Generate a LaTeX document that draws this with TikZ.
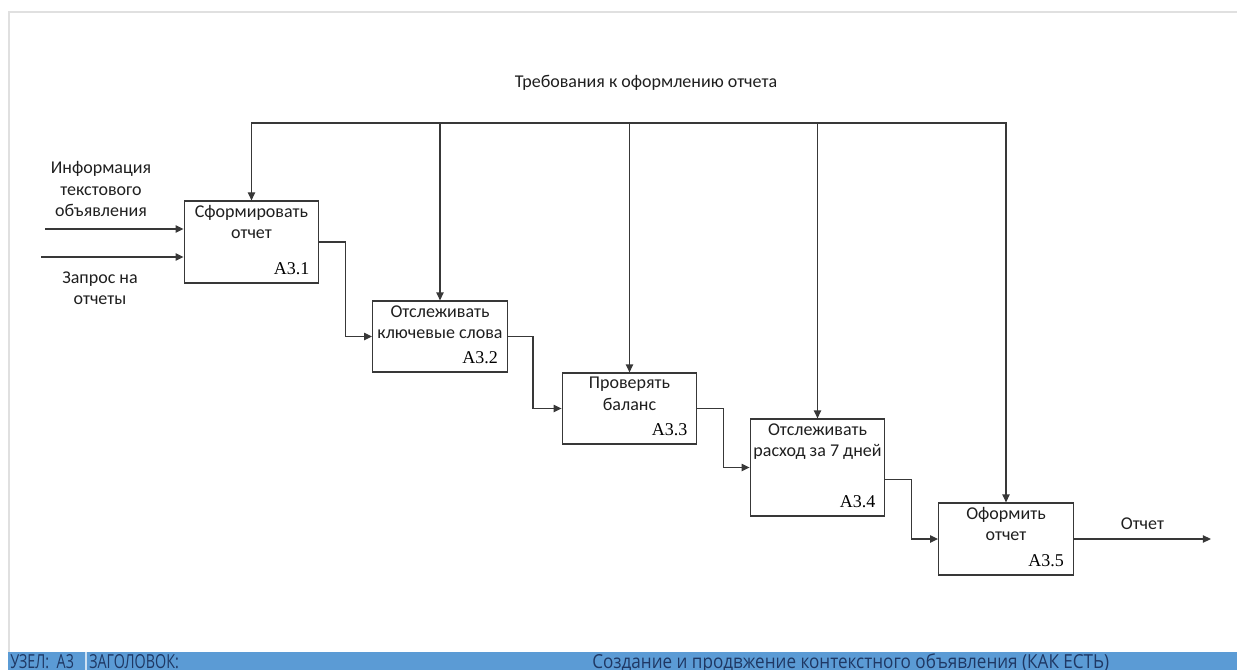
\documentclass[tikz,border=0pt]{standalone}
\usepackage{fontspec}
\setmainfont{Carlito}
\newfontfamily\numfont{Liberation Serif}
\newfontfamily\barfont[FakeStretch=0.885]{Open Sans}
\newfontfamily\barcaps[FakeStretch=0.74]{Open Sans}
\usetikzlibrary{arrows.meta,positioning,calc}
\definecolor{dkline}{gray}{0.22}
\definecolor{frame}{gray}{0.88}
\definecolor{bar}{HTML}{5B9BD5}
\definecolor{bartext}{HTML}{1F3864}

\begin{document}
\begin{tikzpicture}[
		x=0.75pt, y=-0.75pt,
		every node/.style={font=\fontsize{13.5}{16}\selectfont, text=black!88},
		func/.style={draw=dkline, line width=0.9pt, fill=white, minimum width=101pt, inner sep=0pt},
		ftext/.style={align=center, inner sep=2pt},
		fnum/.style={font=\numfont\fontsize{13.5}{15}\selectfont, text=black, anchor=base east, xshift=-4pt, yshift=6.5pt},
		note/.style={align=center, inner sep=1pt},
		farrow/.style={-{Triangle[length=6pt, width=5.5pt]}, draw=dkline, line width=0.9pt},
		bartxt/.style={font=\barfont\fontsize{14.5}{17}\selectfont, text=bartext, anchor=base west, inner sep=0pt},
		barhead/.style={bartxt, font=\barcaps\fontsize{14.5}{17}\selectfont}
	]
		\useasboundingbox (0,0) rectangle (1237,670);

		% frame and title bar
		\draw[frame, line width=1.5pt] (9,652) -- (9,12) -- (1237,12);
		\fill[bar] (8,652) rectangle (1237,670);
		\draw[white!70!bar, line width=0.8pt] (86,652) -- (86,670);
		\node[barhead] (node) at (10,668) {УЗЕЛ:\ \ А3};
		\node[barhead] (title) at (89,668) {ЗАГОЛОВОК:};
		\node[bartxt] (name) at (592,668) {Создание и продвжение контекстного объявления (КАК ЕСТЬ)};

		% functions
		\node[func, minimum height=61.5pt] (a31) at (251.5,242) {};
		\node[func, minimum height=53.25pt] (a32) at (440,336.5) {};
		\node[func, minimum height=53.25pt] (a33) at (629.5,408.5) {};
		\node[func, minimum height=72.75pt] (a34) at (817.5,467.5) {};
		\node[func, minimum height=54pt] (a35) at (1006,539) {};

		\node[ftext, below=1.5pt of a31.north] (t31) {Сформировать \\ отчет};
		\node[ftext, below=1.5pt of a32.north] (t32) {Отслеживать \\ ключевые слова};
		\node[ftext, below=1.5pt of a33.north] (t33) {Проверять \\ баланс};
		\node[ftext, below=1.5pt of a34.north] (t34) {Отслеживать \\ расход за 7 дней};
		\node[ftext, below=1.5pt of a35.north] (t35) {Оформить \\ отчет};

		\node[fnum] (n31) at (a31.south east) {A3.1};
		\node[fnum] (n32) at (a32.south east) {A3.2};
		\node[fnum] (n33) at (a33.south east) {A3.3};
		\node[fnum] (n34) at (a34.south east) {A3.4};
		\node[fnum] (n35) at (a35.south east) {A3.5};

		% control
		\coordinate (ctl) at (629,123);
		\node[note] (req) at (646,83) {Требования к оформлению отчета};
		\draw[farrow, {Triangle[length=6pt, width=5.5pt]}-{Triangle[length=6pt, width=5.5pt]}]
			(a31.north) |- (ctl) -| (a35.north);
		\foreach \f in {a32,a33,a34}
			\draw[farrow] (\f.north |- ctl) -- (\f.north);

		% inputs
		\coordinate (in1) at (45,229);
		\coordinate (in2) at (41,257);
		\node[note] (info) at (101,189) {Информация \\ текстового \\ объявления};
		\node[note] (query) at (100,288) {Запрос на \\ отчеты};
		\draw[farrow] (in1) -- (in1 -| a31.west);
		\draw[farrow] (in2) -- (in2 -| a31.west);

		% links
		\draw[farrow] (a31.east) -- ++(26,0) |- (a32.west);
		\draw[farrow] (a32.east) -- ++(25,0) |- (a33.west);
		\draw[farrow] (a33.east) -- ++(26,0) |- (a34.west);
		\draw[farrow] ($(a34.east)+(0,12)$) -- ++(26,0) |- (a35.west);

		% output
		\draw[farrow]
			(a35.east) -- ++(137,0)
			node[midway, above=3pt] (out) {Отчет};
	\end{tikzpicture}
\end{document}
